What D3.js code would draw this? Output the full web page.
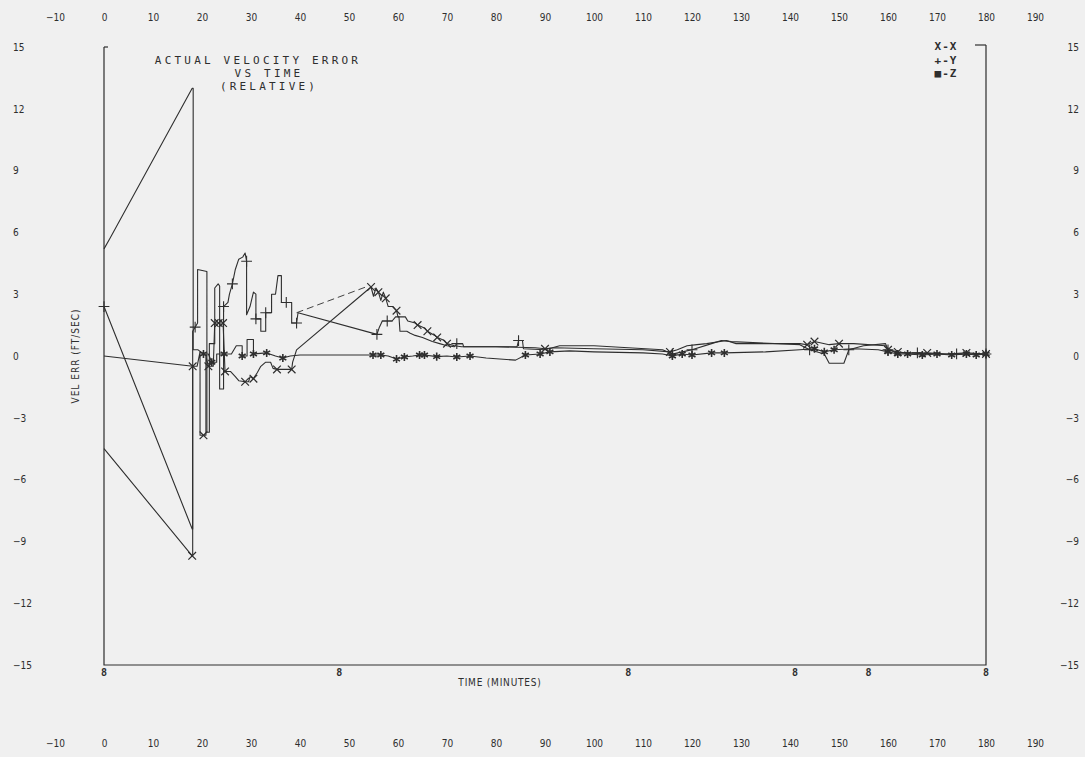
<!DOCTYPE html>
<html>
<head>
<meta charset="utf-8">
<script src="https://cdn.jsdelivr.net/npm/d3@7"></script>
<style>
  body { margin: 0; background: #f0f0f0; }
  svg text { fill: #2e2e2e; }
</style>
</head>
<body>
<div id="chart"></div>
<script>
// tick labels
const xTicks = [-10, 0, 10, 20, 30, 40, 50, 60, 70, 80, 90, 100, 110, 120, 130, 140, 150, 160, 170, 180, 190];
const yTicks = [15, 12, 9, 6, 3, 0, -3, -6, -9, -12, -15];
// "8" marks hanging under the time axis
const timeMarks = [0, 48, 107, 141, 156, 180];

const titleLines = ["ACTUAL VELOCITY ERROR", "VS TIME", "(RELATIVE)"];
const legendLines = ["X-X", "+-Y", "\u25A0-Z"];

// series: [minutes, ft/sec, marker?]
const seriesX = [
  [0, -4.5], [18, -9.7, 1], [18.1, -9.7], [18.1, -0.5]
];
const seriesX2 = [
  [0, 0], [18.1, -0.5, 1], [19.0, -0.5], [19.6, 0.2], [19.6, -3.85], [20.3, -3.85, 1], [20.8, -3.85],
  [20.8, 0.0], [21.3, -0.5, 1], [22.3, -0.5], [22.6, 1.6, 1], [23.4, 1.6, 1], [24.3, 1.6, 1],
  [24.7, -0.75, 1], [25.8, -0.75], [26.8, -1.0], [27.5, -1.2], [28.8, -1.25, 1], [29.5, -1.25],
  [29.8, -1.0], [30.5, -1.1, 1], [31.3, -0.8], [32.0, -0.5], [33.0, -0.3], [34.0, -0.3], [34.5, -0.6],
  [35.3, -0.65, 1], [37.5, -0.65], [38.3, -0.65, 1], [38.5, -0.3], [39.3, 0.3], [54.5, 3.35, 1],
  [55.0, 2.9], [55.5, 3.3], [56.0, 3.1, 1], [56.5, 2.7], [57.0, 3.1], [57.5, 2.8, 1], [58.0, 2.4],
  [59.0, 2.4], [59.7, 2.2, 1], [60.0, 1.9], [61.5, 1.9], [62, 1.7], [63.5, 1.6], [64, 1.5, 1],
  [65.5, 1.35], [66, 1.2, 1], [67.5, 1.0], [68, 0.9, 1], [69.5, 0.75], [70, 0.6, 1], [71.5, 0.5],
  [73, 0.45], [80, 0.45], [88, 0.4], [90, 0.35, 1], [92, 0.4], [100, 0.35], [110, 0.3],
  [115.5, 0.2, 1], [117, 0.3], [119, 0.5], [121, 0.55], [123, 0.6], [127, 0.75], [129, 0.6],
  [142, 0.6], [143.5, 0.55, 1], [145, 0.7, 1], [148, 0.55], [150, 0.6, 1], [153, 0.6],
  [159.5, 0.5], [160, 0.3, 1], [162, 0.2, 1], [165, 0.1], [168, 0.15, 1], [172, 0.1],
  [176, 0.15, 1], [180, 0.1, 1]
];
const seriesXJump = [[39.3, 2.1], [54, 3.4]];

const seriesY = [
  [0, 2.4, 1], [18, -8.4], [18.1, -8.4], [18.1, 1.2], [18.6, 1.4, 1], [19.1, 1.6], [19.1, 4.2],
  [21.0, 4.1], [21.0, -3.7], [21.5, -3.7], [21.5, 0.6], [22.6, 0.6], [22.6, 3.3], [23.3, 3.5],
  [23.6, 3.4], [23.6, -1.6], [24.4, -1.6], [24.4, 2.4, 1], [25.3, 2.6], [25.6, 3.0], [26.2, 3.5, 1],
  [26.8, 4.2], [27.5, 4.7], [28.3, 4.8], [28.8, 5.0], [29.1, 4.6, 1], [29.1, 2.0], [29.8, 2.4],
  [30.5, 3.1], [31.0, 3.0], [31.0, 1.8, 1], [32.0, 1.8], [32.0, 1.2], [33.0, 1.2], [33.0, 2.1, 1],
  [34.2, 2.1], [34.2, 3.0], [35.0, 3.0], [35.5, 3.9], [36.2, 3.9], [36.2, 2.6], [37.2, 2.6, 1],
  [38.3, 2.6], [38.3, 1.6], [39.3, 1.6, 1], [39.6, 2.1], [55.7, 1.05, 1], [56.2, 1.4], [56.8, 1.7],
  [57.8, 1.7, 1], [58.8, 1.7], [59.5, 1.9], [60.2, 1.9], [60.4, 1.2], [61.8, 1.2], [62.5, 1.1],
  [63.5, 1.0], [65, 0.9], [66, 0.8], [67, 0.7], [68.5, 0.6], [70, 0.5], [71.5, 0.45], [72, 0.6, 1],
  [73.2, 0.6], [73.4, 0.45], [84.3, 0.45], [84.6, 0.75, 1], [85.4, 0.75], [85.6, 0.35], [90, 0.3],
  [93, 0.5], [100, 0.5], [114, 0.3], [116, 0.1, 1], [118, 0.2], [120, 0.3, 1], [124, 0.6],
  [126, 0.75], [128, 0.7], [142, 0.55], [144, 0.3, 1], [147, 0.1], [148, -0.35], [151, -0.35],
  [152, 0.3, 1], [155, 0.5], [159.5, 0.6], [160, 0.3, 1], [162, 0.15], [166, 0.15, 1], [170, 0.1],
  [174, 0.1, 1], [180, 0.1, 1]
];

const seriesZ = [
  [0, 5.2], [1.2, 5.7], [18, 13], [18.2, 13], [18.2, 0.3], [19.2, 0.3], [20.3, 0.1, 1], [21.3, 0.1],
  [22.0, -0.3, 1], [23.0, -0.3], [23.0, 0.1], [24.5, 0.1, 1], [26, 0.1], [27, 0.5], [28.2, 0.5],
  [28.2, 0.0, 1], [29.2, 0.0], [29.2, 0.8], [30.5, 0.8], [30.5, 0.1, 1], [33.2, 0.15, 1], [35, 0.0],
  [36.5, -0.1, 1], [38, 0.0], [40, 0.05], [52, 0.05], [54.9, 0.05, 1], [56.5, 0.05, 1], [58, 0],
  [59.7, -0.15, 1], [61.3, -0.05, 1], [63, 0.0], [64.4, 0.05, 1], [65.4, 0.05, 1], [67.9, -0.03, 1],
  [70, 0.0], [72, -0.05, 1], [74.7, 0.0, 1], [78, -0.1], [84, -0.2], [86, 0.05, 1], [89, 0.1, 1],
  [91, 0.2, 1], [95, 0.25], [100, 0.2], [110, 0.15], [114, 0.1], [116, 0.0, 1], [118, 0.1, 1],
  [120, 0.05, 1], [124, 0.15, 1], [126.6, 0.15, 1], [135, 0.2], [142, 0.3], [145, 0.35, 1],
  [147, 0.2, 1], [149, 0.3, 1], [153, 0.35], [158, 0.3], [160, 0.2, 1], [162, 0.1, 1], [164, 0.1, 1],
  [167, 0.05, 1], [170, 0.1, 1], [173, 0.05, 1], [176, 0.1, 1], [178, 0.05, 1], [180, 0.1, 1]
];

const width = 1085;
const height = 757;
const ink = "#2e2e2e";
const labelFont = "'DejaVu Sans Condensed', 'DejaVu Sans', sans-serif";
const plotterFont = "'DejaVu Sans Mono', monospace";

const svg = d3.select("#chart")
  .append("svg")
  .attr("width", width)
  .attr("height", height)
  .style("background", "#f0f0f0");

const x = d3.scaleLinear().domain([0, 180]).range([104, 986]);
const y = d3.scaleLinear().domain([-15, 15]).range([665, 47]);

// tick label rows (no tick marks, no domain line)
function styleAxis(g) {
  g.select(".domain").remove();
  g.selectAll("text")
    .style("font-family", labelFont)
    .style("font-size", "10px")
    .attr("fill", ink);
}

svg.append("g")
  .attr("transform", "translate(0, 21)")
  .call(d3.axisTop(x).tickValues(xTicks).tickSize(0).tickPadding(0))
  .call(styleAxis);

svg.append("g")
  .attr("transform", "translate(0, 740)")
  .call(d3.axisBottom(x).tickValues(xTicks).tickSize(0).tickPadding(0))
  .call(styleAxis);

svg.append("g")
  .attr("transform", "translate(13, 0)")
  .call(d3.axisLeft(y).tickValues(yTicks).tickSize(0).tickPadding(0))
  .call(styleAxis)
  .selectAll("text")
  .attr("x", 0)
  .attr("text-anchor", "start");

svg.append("g")
  .attr("transform", "translate(1079, 0)")
  .call(d3.axisRight(y).tickValues(yTicks).tickSize(0).tickPadding(0))
  .call(styleAxis)
  .selectAll("text")
  .attr("x", 0)
  .attr("text-anchor", "end");

// frame: left, bottom, right; only corner stubs on top
const frame = svg.append("g")
  .attr("stroke", ink)
  .attr("stroke-width", 1.2)
  .attr("fill", "none");

frame.append("path")
  .attr("d", `M${x(0)},${y(15)} V${y(-15)} H${x(180)} V${y(15) - 2}`);
frame.append("path")
  .attr("d", `M${x(0)},${y(15)} h4`);
frame.append("path")
  .attr("d", `M${x(180) - 11},${y(15) - 2} H${x(180)}`);

// hanging marks along the time axis
svg.selectAll(".tmark")
  .data(timeMarks)
  .join("text")
  .attr("class", "tmark")
  .attr("x", d => x(d))
  .attr("y", y(-15) + 11)
  .attr("text-anchor", "middle")
  .style("font-family", plotterFont)
  .style("font-size", "10px")
  .style("font-weight", "bold")
  .text("8");

// lines
const line = d3.line()
  .x(d => x(d[0]))
  .y(d => y(d[1]));

const lines = svg.append("g")
  .attr("fill", "none")
  .attr("stroke", ink)
  .attr("stroke-width", 1.1)
  .attr("stroke-linejoin", "round");

[seriesX, seriesX2, seriesY, seriesZ].forEach(s => {
  lines.append("path").attr("d", line(s));
});

lines.append("path")
  .attr("d", line(seriesXJump))
  .attr("stroke-dasharray", "7,4")
  .attr("stroke-width", 0.9);

// markers
const symTimes = d3.symbolTimes || d3.symbolCross;
const symPlus = d3.symbolPlus || d3.symbolCross;
const symStar = d3.symbolAsterisk || d3.symbolCross;

function drawMarkers(data, type, size, widthPx) {
  svg.append("g")
    .selectAll("path")
    .data(data.filter(d => d[2]))
    .join("path")
    .attr("transform", d => `translate(${x(d[0])}, ${y(d[1])})`)
    .attr("d", d3.symbol().type(type).size(size))
    .attr("fill", "none")
    .attr("stroke", ink)
    .attr("stroke-width", widthPx);
}

drawMarkers(seriesX, symTimes, 40, 1.2);
drawMarkers(seriesX2, symTimes, 40, 1.2);
drawMarkers(seriesY, symPlus, 40, 1.1);
drawMarkers(seriesZ, symStar, 45, 1.6);

// title
svg.append("g")
  .selectAll("text")
  .data(titleLines)
  .join("text")
  .attr("x", (d, i) => i === 0 ? 258 : 269)
  .attr("y", (d, i) => 64 + i * 12.8)
  .attr("text-anchor", "middle")
  .style("font-family", plotterFont)
  .style("font-size", "11px")
  .style("letter-spacing", "3.2px")
  .text(d => d);

// legend
svg.append("g")
  .selectAll("text")
  .data(legendLines)
  .join("text")
  .attr("x", 946)
  .attr("y", (d, i) => 50 + i * 13.5)
  .attr("text-anchor", "middle")
  .style("font-family", plotterFont)
  .style("font-size", "11px")
  .style("font-weight", "bold")
  .style("letter-spacing", "1px")
  .text(d => d);

// axis titles
svg.append("text")
  .attr("x", 500)
  .attr("y", 686)
  .attr("text-anchor", "middle")
  .style("font-family", labelFont)
  .style("font-size", "10px")
  .style("letter-spacing", "0.8px")
  .text("TIME (MINUTES)");

svg.append("text")
  .attr("transform", `translate(79, ${y(0)}) rotate(-90)`)
  .attr("text-anchor", "middle")
  .style("font-family", labelFont)
  .style("font-size", "10px")
  .style("letter-spacing", "1px")
  .text("VEL ERR (FT/SEC)");
</script>
</body>
</html>
